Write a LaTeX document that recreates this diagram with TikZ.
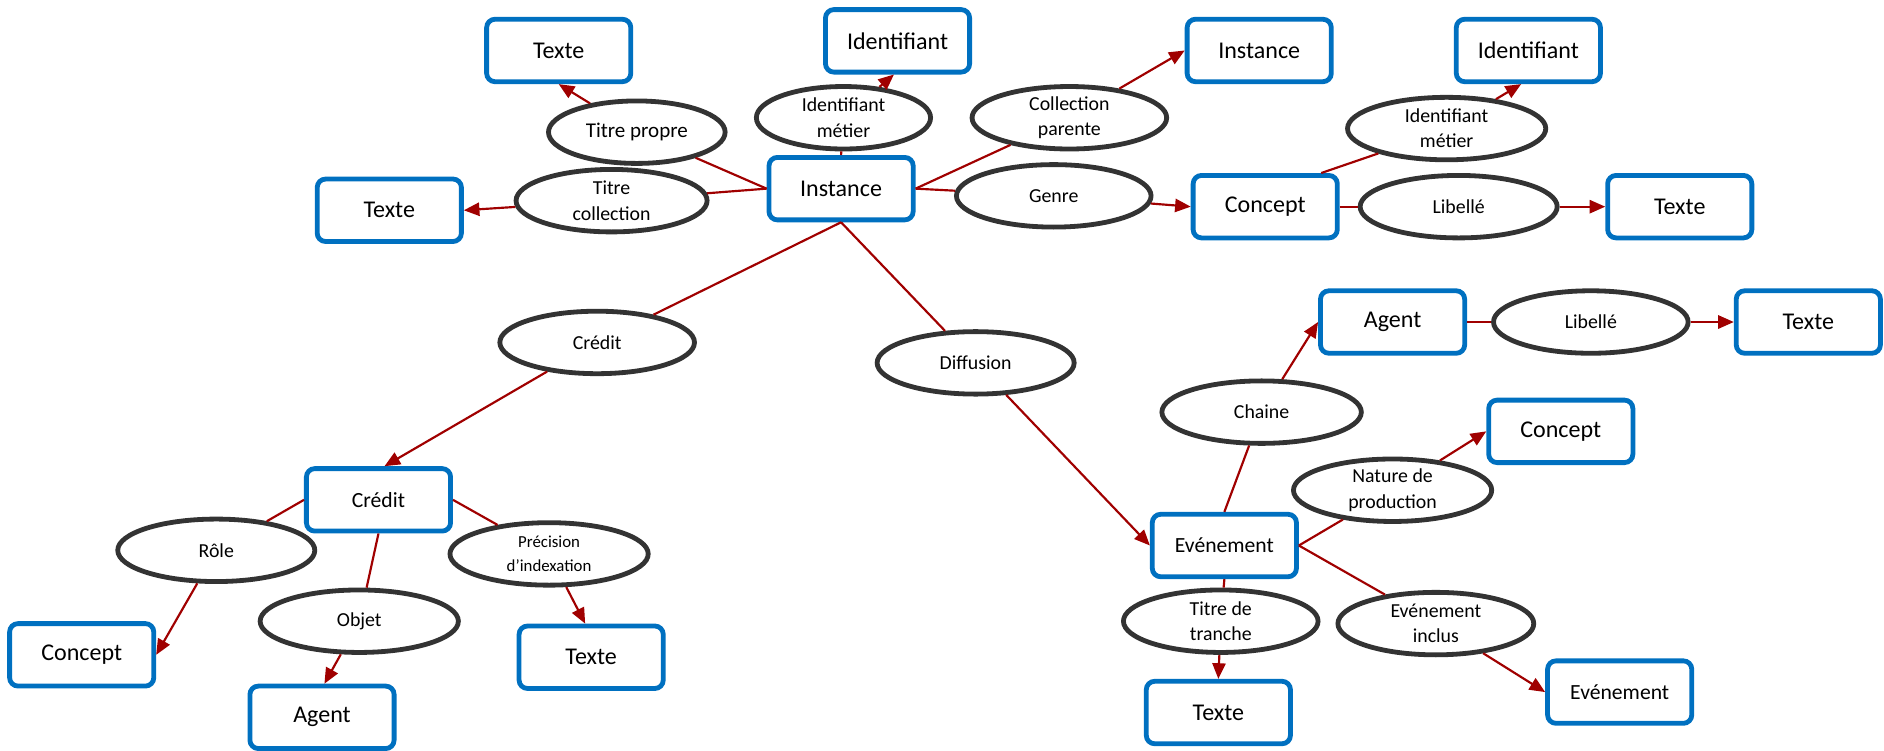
\documentclass[tikz,border=0pt]{standalone}
\usepackage{fontspec}
\setmainfont{Carlito}
\usetikzlibrary{shapes.geometric,arrows.meta}
\definecolor{boxblue}{HTML}{0070C0}
\definecolor{ellgray}{HTML}{333333}
\definecolor{linkred}{HTML}{A00000}
\begin{document}
\begin{tikzpicture}[x=1pt,y=-1pt,
 box/.style={draw=boxblue, line width=4pt, rounded corners=7pt, minimum width=120pt, minimum height=52pt, fill=white, font=\fontsize{20}{24}\selectfont},
 boxs/.style={box, font=\fontsize{18}{22}\selectfont},
 rel/.style={ellipse, draw=ellgray, line width=4pt, minimum width=162pt, minimum height=52pt, inner sep=0pt, align=center, fill=white, font=\fontsize{16.5}{21}\selectfont},
 link/.style={draw=linkred, line width=1.8pt},
 arr/.style={link, -{Triangle[length=13pt,width=11pt]}},
]
\useasboundingbox (0,0) rectangle (1568,625);
% boxes
\node[box] (tx1) at (465,42) {Texte};
\node[box] (id1) at (747,34) {Identifiant};
\node[box] (in2) at (1048,42) {Instance};
\node[box] (id2) at (1272,42) {Identifiant};
\node[box] (tx2) at (324,175) {Texte};
\node[box] (in1) at (700,157) {Instance};
\node[box] (co1) at (1053,172) {Concept};
\node[box] (tx3) at (1398,172) {Texte};
\node[box] (ag1) at (1159,268) {Agent};
\node[box] (tx4) at (1505,268) {Texte};
\node[box] (co2) at (1299,359) {Concept};
\node[boxs] (crb) at (315,416) {Crédit};
\node[boxs] (ev1) at (1019,454) {Evénement};
\node[box] (co3) at (68,545) {Concept};
\node[box] (tx5) at (492,547) {Texte};
\node[box] (ag2) at (268,597) {Agent};
\node[box] (tx6) at (1014,593) {Texte};
\node[boxs] (ev2) at (1348,576) {Evénement};
% relation ellipses
\node[rel, minimum width=147pt, font=\fontsize{17.5}{21}\selectfont] (tp) at (530,110) {Titre propre};
\node[rel, minimum width=145pt] (im1) at (702,98) {Identifiant\\métier};
\node[rel] (cp) at (890,98) {Collection\\parente};
\node[rel, minimum width=159pt] (tc) at (509,167) {Titre\\collection};
\node[rel] (ge) at (877,163) {Genre};
\node[rel, minimum width=165pt] (im2) at (1204,107) {Identifiant\\métier};
\node[rel, minimum width=164pt] (lb1) at (1214,172) {Libellé};
\node[rel] (cr) at (497,285) {Crédit};
\node[rel, minimum width=164pt] (di) at (812,302) {Diffusion};
\node[rel] (lb2) at (1324,268) {Libellé};
\node[rel, minimum width=166pt] (ch) at (1050,343) {Chaine};
\node[rel, minimum width=165pt] (np) at (1159,408) {Nature de\\production};
\node[rel, minimum width=164pt] (ro) at (180,458) {Rôle};
\node[rel, minimum width=165pt, font=\fontsize{14}{20}\selectfont] (pi) at (457,461) {Précision\\d’indexation};
\node[rel, minimum width=165pt] (ob) at (299,517) {Objet};
\node[rel] (tt) at (1016,517) {Titre de\\tranche};
\node[rel, minimum width=163pt] (ei) at (1195,519) {Evénement\\inclus};
% connectors
\draw[link] (in1.west) -- (tp);
\draw[arr] (tp) -- (tx1.south);
\draw[link] (in1.north) -- (im1);
\draw[arr] (im1) -- ([xshift=-3pt]id1.south);
\draw[link] (in1.east) -- (cp);
\draw[arr] (cp) -- (in2.west);
\draw[link] (in1.west) -- (tc);
\draw[arr] (tc) -- (tx2.east);
\draw[link] (in1.east) -- (ge);
\draw[arr] (ge) -- (co1.west);
\draw[link] (co1.31) -- (im2.200);
\draw[arr] (im2) -- ([xshift=-6pt]id2.south);
\draw[link] (co1.east) -- (lb1);
\draw[arr] (lb1) -- (tx3.west);
\draw[link] (in1.south) -- (cr);
\draw[arr] (cr) -- ([xshift=5pt]crb.north);
\draw[link] (in1.south) -- (di);
\draw[arr] (di) -- (ev1.west);
\draw[link] (crb.west) -- (ro);
\draw[arr] (ro) -- (co3.east);
\draw[link] (crb.south) -- (ob);
\draw[arr] (ob) -- ([xshift=2pt]ag2.north);
\draw[link] (crb.east) -- (pi);
\draw[arr] (pi) -- ([xshift=-5pt]tx5.north);
\draw[link] (ev1.north) -- (ch);
\draw[arr] (ch) -- (ag1.west);
\draw[link] (ag1.east) -- (lb2);
\draw[arr] (lb2) -- (tx4.west);
\draw[link] (ev1.east) -- (np);
\draw[arr] (np) -- (co2.west);
\draw[link] (ev1.south) -- (tt);
\draw[arr] (tt) -- (tx6.north);
\draw[link] (ev1.east) -- (ei);
\draw[arr] (ei) -- (ev2.west);
\end{tikzpicture}
\end{document}
